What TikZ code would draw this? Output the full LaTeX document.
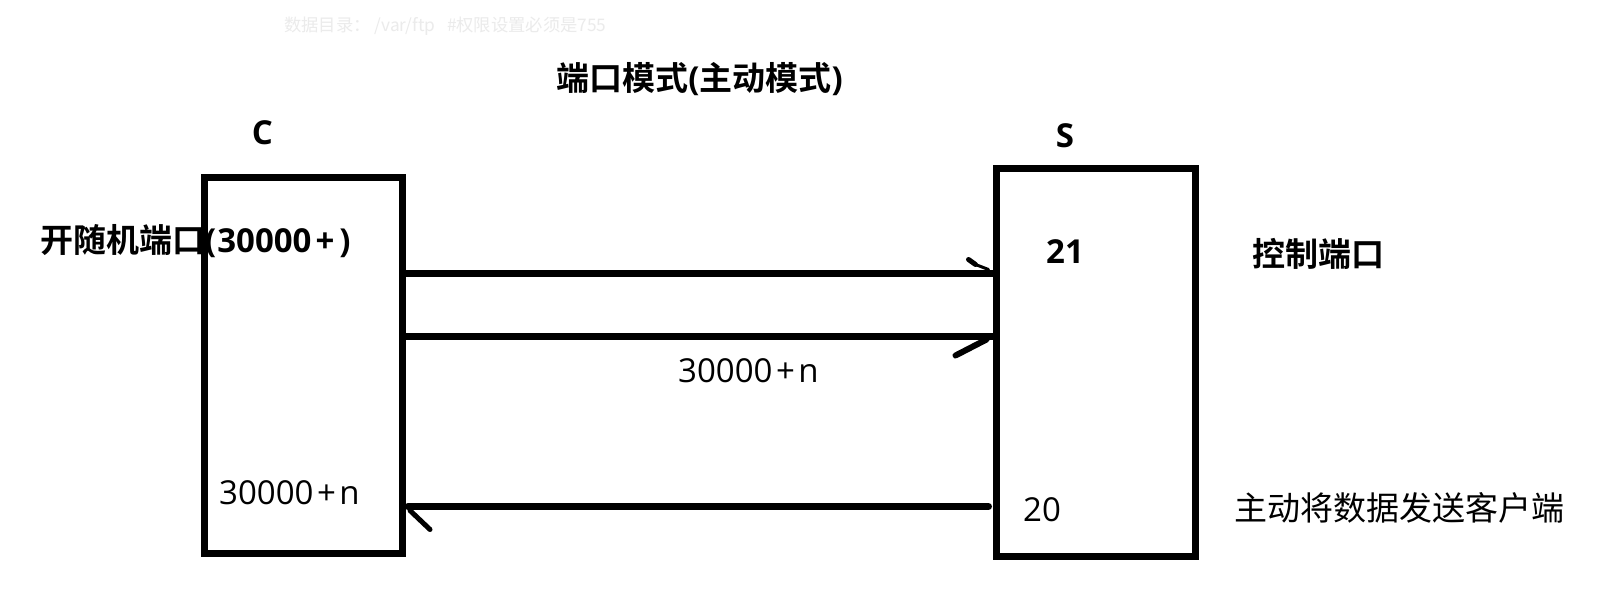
\documentclass[tikz,border=0pt]{standalone}
\usepackage{fontspec}
\setmainfont{Noto Sans CJK SC}[BoldFont={Noto Sans CJK SC Bold}]
\newfontfamily\lat{Open Sans}
\newcommand{\plusgap}[1]{\kern#1+\kern#1}
\definecolor{faint}{HTML}{EBEBEB}
\begin{document}
\begin{tikzpicture}[x=1pt,y=-1pt,
  box/.style={draw=black,line width=7pt,rectangle,inner sep=0pt,outer sep=0pt},
  wire/.style={draw=black,line width=7pt},
  barb/.style={draw=black,line width=5pt,line cap=round},
  big/.style={font=\fontsize{33}{38}\selectfont,inner sep=0pt},
  bigb/.style={font=\fontsize{33}{38}\selectfont\bfseries,inner sep=0pt}]
\useasboundingbox[fill=white] (0,0) rectangle (1612,592);
% boxes
\node[box,minimum width=198pt,minimum height=376pt] (C) at (303.5,365) {};
\node[box,minimum width=199pt,minimum height=388pt] (S) at (1096,362) {};
% texts
\node[font=\fontsize{17.3}{20}\selectfont,text=faint,anchor=west,inner sep=0pt] (dir) at (284,26) {数据目录： /var/ftp \ \ \#权限设置必须是755};
\node[bigb] (title) at (699.5,79) {端口模式{\lat(}主动模式{\lat)}};
\node[bigb] (Clab) at (262.5,133) {\lat C};
\node[bigb] (Slab) at (1065,136) {\lat S};
\node[bigb,anchor=west] (rand) at (40,241) {开随机端口{\lat(\kern1pt 30000\plusgap{4pt}\kern1pt)}};
\node[bigb,anchor=west] (p21) at (1046,252) {\lat 21};
\node[bigb,anchor=west] (ctrl) at (1252,254) {控制端口};
\node[big,anchor=west] (mid) at (678,371) {\lat 30000\plusgap{3.5pt}n};
\node[big,anchor=west] (cport) at (219,493) {\lat 30000\plusgap{3.5pt}n};
\node[big,anchor=west] (p20) at (1023,510) {\lat 20};
\node[big,anchor=west] (send) at (1234,508) {主动将数据发送客户端};
% connectors
\coordinate (a1) at (C.east |- 0,273.5);
\coordinate (b1) at (S.west |- 0,273.5);
\coordinate (a2) at (C.east |- 0,336.5);
\coordinate (b2) at (S.west |- 0,336.5);
\coordinate (a3) at (408,506.5);
\coordinate (b3) at (988.5,506.5);
\draw[wire] (a1) -- (b1);
\draw[wire] (a2) -- (b2);
\draw[wire,line cap=round] (b3) -- (a3);
% hand-drawn barbs
\draw[barb,line width=5pt] ([shift={(-28,-14)}]b1) -- ([shift={(-21,-9)}]b1);
\draw[barb,line width=3pt] ([shift={(-21,-9)}]b1) -- ([shift={(-8,-4)}]b1);
\draw[barb,line width=6pt] ([shift={(-41,19)}]b2) -- ([shift={(-10,3)}]b2);
\draw[barb,line width=5pt] ([shift={(2,4)}]a3) -- ([shift={(22,23)}]a3);
\end{tikzpicture}
\end{document}
